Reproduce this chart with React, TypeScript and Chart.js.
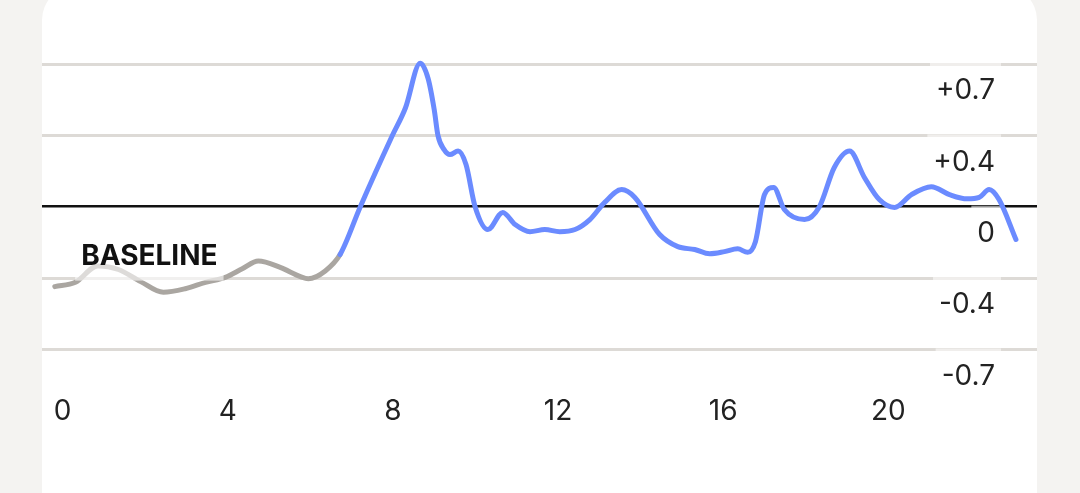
import React, { useEffect, useRef } from "react";
import { Chart, registerables } from "chart.js";

Chart.register(...registerables);

// x positions (hours) and values (in grid steps; tick labels below map steps to shown values)
const xValues = [
  -0.19, 0.31, 0.85, 1.35, 1.89, 2.44, 2.97, 3.46, 3.94, 4.35, 4.74, 5.27, 5.76, 5.95, 6.36, 6.72,
  7.21, 7.98, 8.3, 8.66, 8.85, 9.0, 9.09, 9.24, 9.38, 9.58, 9.77, 9.99, 10.3, 10.66, 10.96, 11.32,
  11.68, 12.04, 12.41, 12.77, 13.13, 13.54, 13.86, 14.46, 14.9, 15.31, 15.67, 16.03, 16.35, 16.59,
  16.78, 17.0, 17.22, 17.48, 17.97, 18.33, 18.69, 19.06, 19.42, 19.78, 20.15, 20.56, 21.04, 21.48,
  21.91, 22.2, 22.44, 22.68, 23.09,
];
const yValues = [
  -1.12, -1.06, -0.83, -0.88, -1.05, -1.2, -1.15, -1.06, -0.99, -0.87, -0.76, -0.85, -0.98, -1.01, -0.9, -0.67,
  0, 0.99, 1.38, 2.01, 1.8, 1.36, 1.0, 0.8, 0.73, 0.78, 0.59, 0, -0.32, -0.08, -0.25, -0.35,
  -0.32, -0.35, -0.32, -0.18, 0.06, 0.24, 0.13, -0.39, -0.56, -0.6, -0.66, -0.63, -0.59, -0.64,
  -0.49, 0.17, 0.27, -0.04, -0.18, 0, 0.55, 0.78, 0.41, 0.1, -0.01, 0.17, 0.28, 0.17,
  0.11, 0.13, 0.24, 0.1, -0.46,
];
const xTicks = [0, 4, 8, 12, 16, 20];
const yTicks = [-2, -1, 0, 1, 2];
const yTickLabels = ["-0.7", "-0.4", "0", "+0.4", "+0.7"];
const baselineEnd = 6.72;
const baselineText = "BASELINE";
const baselineTextX = 2.1;
const baselineTextY = -0.7;

const GRAY = "#aaa6a1";
const BLUE = "#6b8bff";
const FONT = "Inter, 'Noto Sans', sans-serif";

const yLabelPlugin = {
  id: "yLabels",
  beforeDatasetsDraw(chart: any) {
    const { ctx, scales, chartArea } = chart;
    const y = scales.y;
    ctx.save();
    ctx.font = `400 28px ${FONT}`;
    ctx.textAlign = "right";
    ctx.textBaseline = "middle";
    y.ticks.forEach((t: any) => {
      const i = yTicks.indexOf(t.value);
      if (i < 0) return;
      const label = yTickLabels[i];
      const px = chartArea.right - 42;
      const py = y.getPixelForValue(t.value) + 27;
      const w = ctx.measureText(label).width;
      ctx.fillStyle = "rgba(255,255,255,0.55)";
      ctx.fillRect(px - w - 6, py - 28, w + 12, 48);
      ctx.fillStyle = "#222222";
      ctx.fillText(label, px, py);
    });
    ctx.restore();
  },
};

const baselinePlugin = {
  id: "baselineLabel",
  afterDatasetsDraw(chart: any) {
    const { ctx, scales } = chart;
    const px = scales.x.getPixelForValue(baselineTextX);
    const py = scales.y.getPixelForValue(baselineTextY);
    ctx.save();
    ctx.font = `700 28px ${FONT}`;
    const w = ctx.measureText(baselineText).width;
    ctx.fillStyle = "rgba(255,255,255,0.6)";
    ctx.fillRect(px - w / 2 - 6, py - 20, w + 12, 44);
    ctx.fillStyle = "#111111";
    ctx.textAlign = "center";
    ctx.textBaseline = "middle";
    ctx.fillText(baselineText, px, py);
    ctx.restore();
  },
};

export default function App() {
  const ref = useRef<HTMLCanvasElement | null>(null);

  useEffect(() => {
    if (!ref.current) return;
    const data = xValues.map((x, i) => ({ x, y: yValues[i] }));
    const chart = new Chart(ref.current, {
      type: "line",
      data: {
        datasets: [
          {
            data,
            borderWidth: 5,
            borderColor: BLUE,
            pointRadius: 0,
            cubicInterpolationMode: "monotone",
            borderCapStyle: "round",
            borderJoinStyle: "round",
            clip: false as any,
            segment: {
              borderColor: (c: any) => (c.p0.parsed.x < baselineEnd ? GRAY : BLUE),
            },
          },
        ],
      },
      options: {
        animation: false,
        responsive: true,
        maintainAspectRatio: false,
        layout: { padding: { left: 42, right: 43, top: 64, bottom: 20 } },
        plugins: { legend: { display: false }, tooltip: { enabled: false } },
        scales: {
          x: {
            type: "linear",
            min: -0.5,
            max: 23.6,
            afterBuildTicks: (s: any) => {
              s.ticks = xTicks.map((v) => ({ value: v }));
            },
            grid: { display: false, drawTicks: false },
            border: { display: false },
            ticks: {
              padding: 45,
              color: "#222222",
              font: { family: FONT, size: 28 },
              callback: (v: any) => String(v),
            },
          },
          y: {
            type: "linear",
            position: "right",
            min: -2,
            max: 2,
            afterBuildTicks: (s: any) => {
              s.ticks = yTicks.map((v) => ({ value: v }));
            },
            grid: {
              drawTicks: false,
              lineWidth: (c: any) => (c.tick && c.tick.value === 0 ? 2.5 : 3),
              color: (c: any) => (c.tick && c.tick.value === 0 ? "#111111" : "#dddad6"),
            },
            border: { display: false },
            ticks: { display: false },
          },
        },
      },
      plugins: [yLabelPlugin, baselinePlugin],
    });
    return () => chart.destroy();
  }, []);

  return (
    <div style={{ position: "fixed", inset: 0, overflow: "hidden", background: "#f4f3f1" }}>
      <div
        style={{
          position: "absolute",
          left: 42,
          top: -14,
          width: 995,
          height: 620,
          borderRadius: 34,
          background: "#ffffff",
        }}
      />
      <div style={{ position: "absolute", left: 0, top: 0, width: 1080, height: 493 }}>
        <canvas ref={ref} />
      </div>
    </div>
  );
}
